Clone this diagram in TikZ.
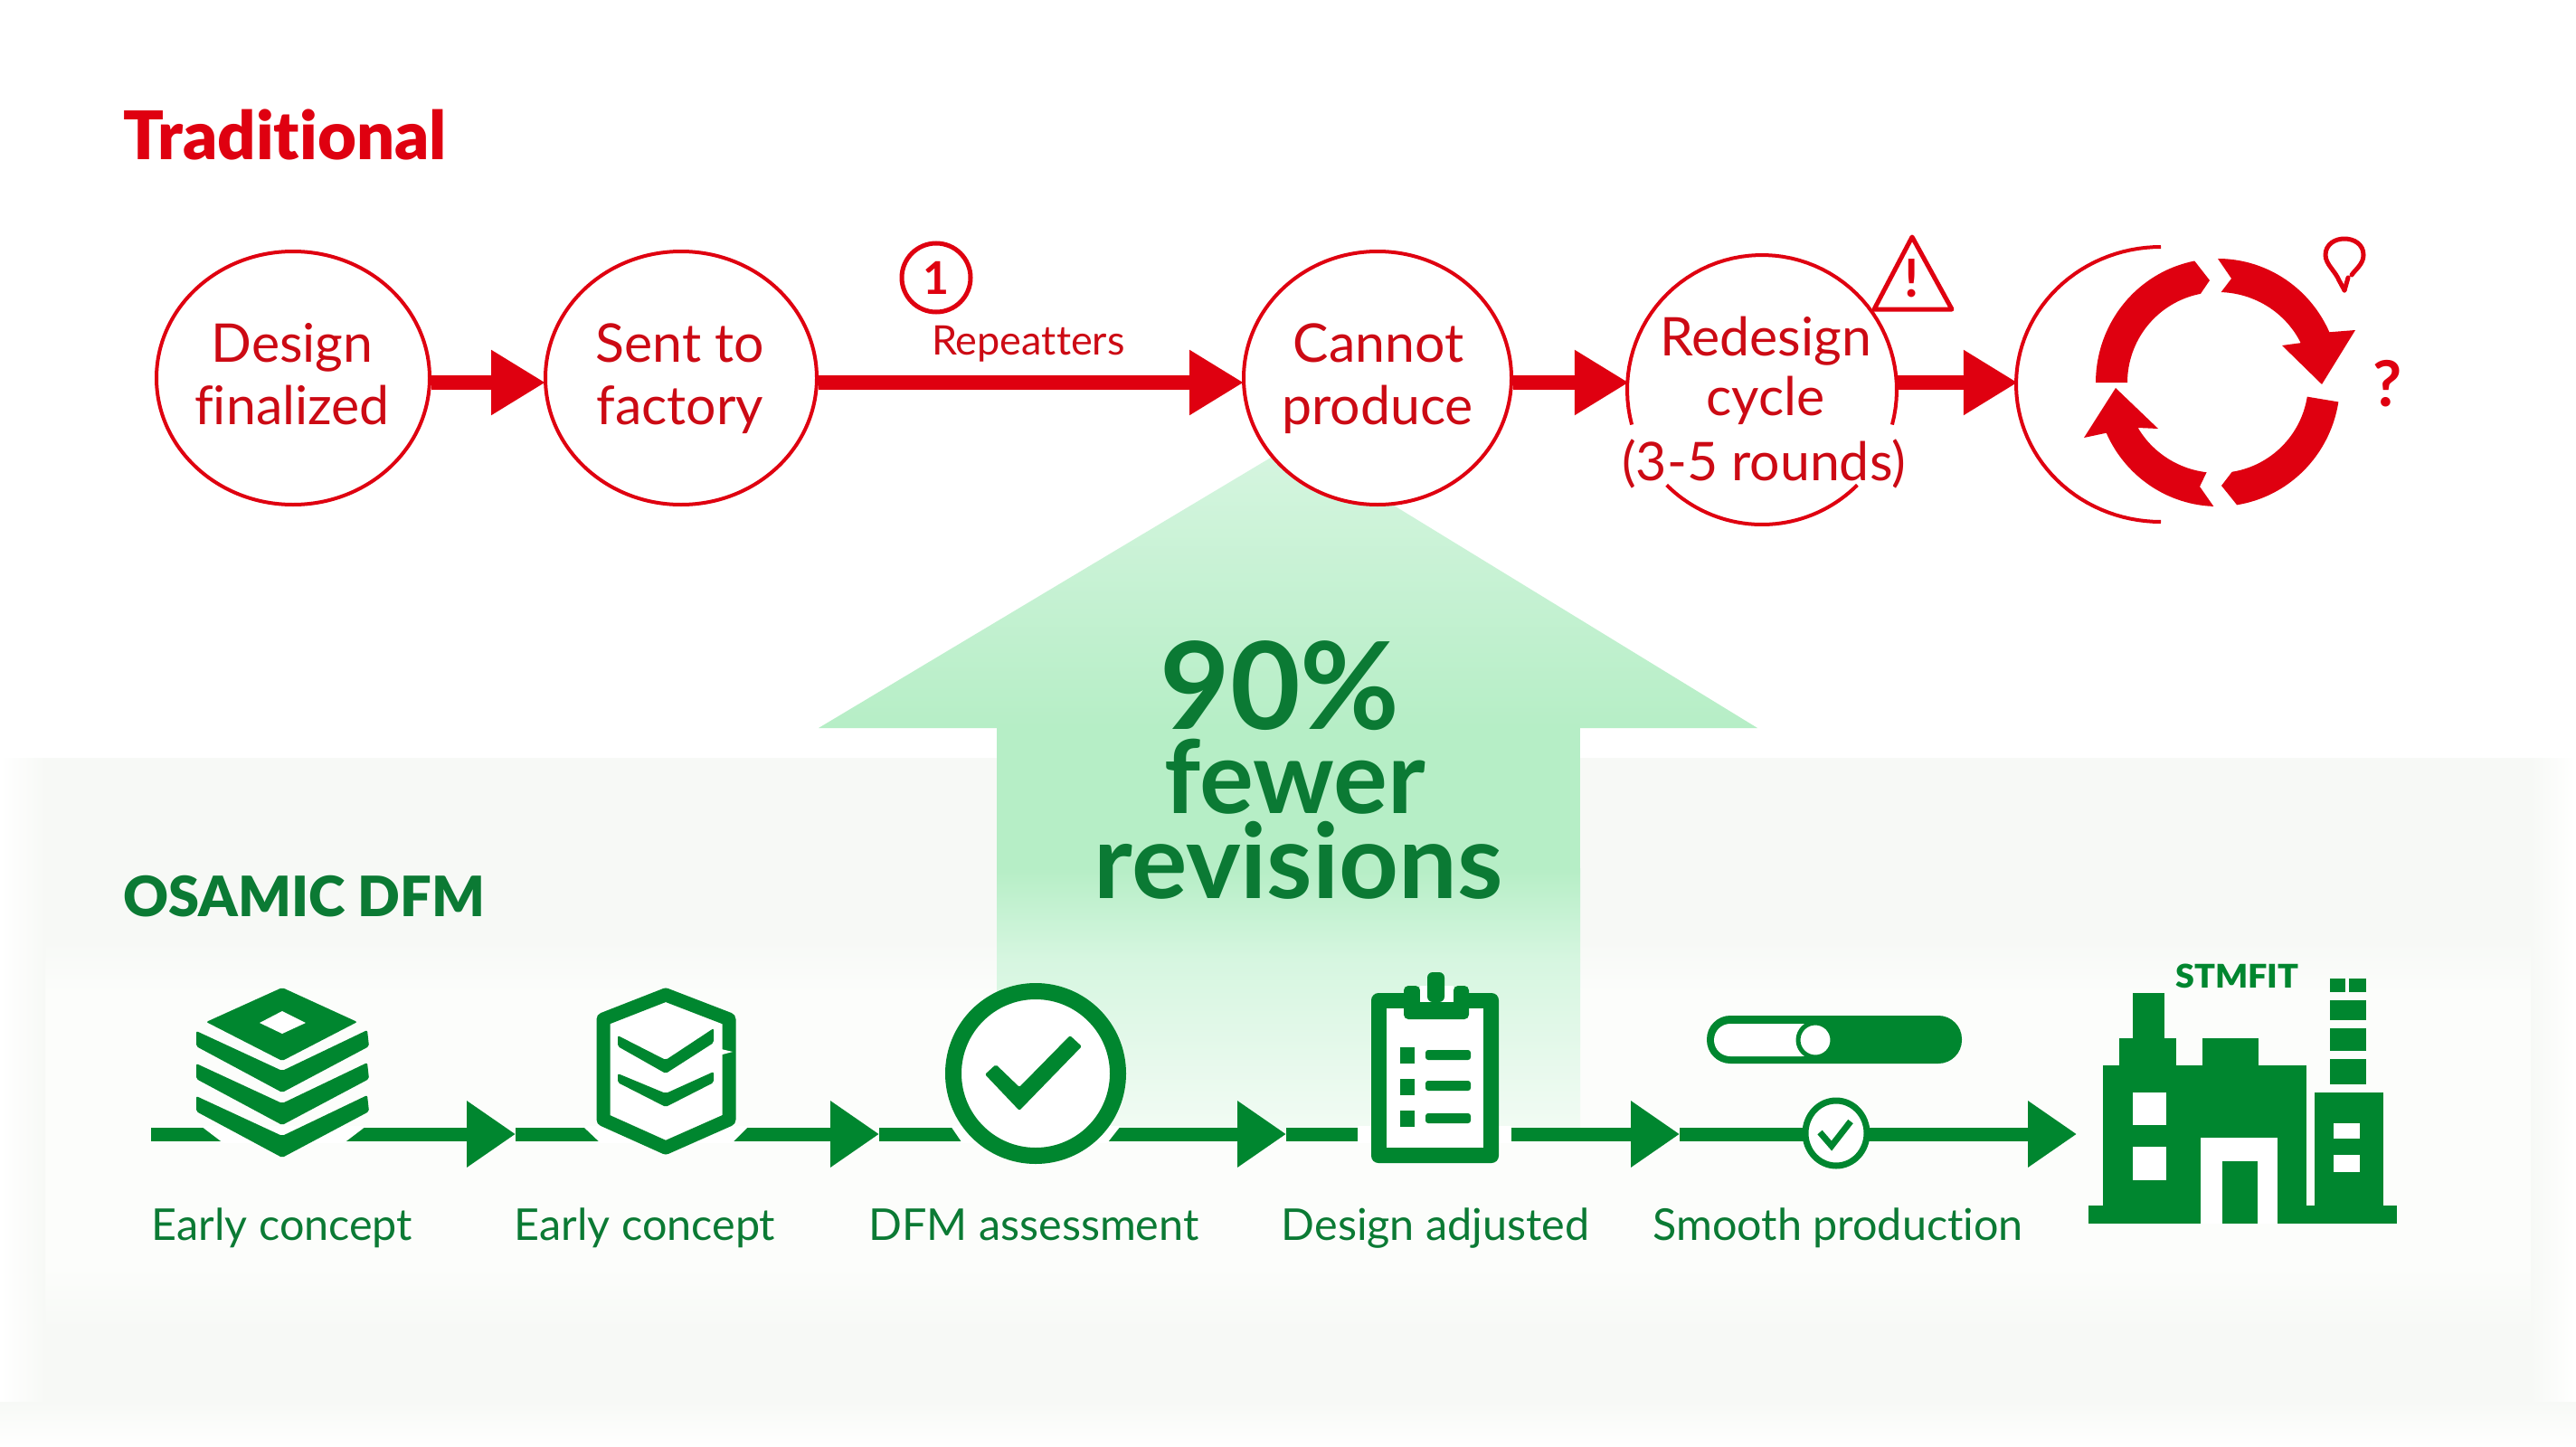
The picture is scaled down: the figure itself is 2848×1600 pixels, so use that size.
\documentclass[tikz,border=0pt]{standalone}
\usepackage{fontspec}
\setmainfont[Ligatures=NoCommon]{Lato}
\newfontfamily\blk[Ligatures=NoCommon]{Lato Black}
\usetikzlibrary{arrows.meta,shapes.geometric,calc}
\definecolor{rd}{HTML}{DF0010}
\definecolor{rdtx}{HTML}{CC0A14}
\definecolor{gr}{HTML}{00862F}
\definecolor{grtx}{HTML}{0B7A34}
\definecolor{bandc}{HTML}{F7F9F6}
\definecolor{haloc}{HTML}{FCFDFB}
\definecolor{arrowtop}{HTML}{D6F5E0}
\definecolor{arrowmid}{HTML}{B6EEC6}
\definecolor{arrowlow}{HTML}{D6F6E0}
\definecolor{arrowbot}{HTML}{F2FBF4}
\tikzset{
  x=1pt,y=-1pt,
  fs/.style={font=\fontsize{#1}{#1}\selectfont},
  stepnode/.style={ellipse,draw=rd,line width=4pt,fill=white,inner sep=0pt},
  steptext/.style={anchor=base,text=rdtx,fs=59,inner sep=0pt},
  rlink/.style={draw=rd,line width=16pt,-{Triangle[length=60pt,width=68pt]},shorten >=-2pt},
  glink/.style={draw=gr,line width=15pt},
  gtip/.style={-{Triangle[length=54pt,width=70pt]}},
  glabel/.style={anchor=base,text=grtx,fs=48.5},
  gap/.style={fill=white},
  icon/.style={fill=gr,rounded corners=2pt},
  ring/.style={fill=rd},
  headline/.style={anchor=base,text=grtx,inner sep=0pt},
}
\begin{document}
\begin{tikzpicture}
\useasboundingbox (0,0) rectangle (2848,1600);
\fill[white] (0,0) rectangle (2848,1600);
\fill[bandc] (0,838) rectangle (2848,1600);
\shade[top color=bandc,bottom color=haloc] (0,1040) rectangle (2848,1100);
\fill[haloc] (0,1100) rectangle (2848,1400);
\shade[top color=haloc,bottom color=bandc] (0,1400) rectangle (2848,1470);
\shade[left color=white,right color=bandc] (0,838) rectangle (50,1600);
\shade[right color=white,left color=bandc] (2798,838) rectangle (2848,1600);
\shade[top color=bandc,bottom color=white] (0,1550) rectangle (2848,1600);
% big arrow
\shade[top color=arrowtop,bottom color=arrowmid] (905,805) -- (1430,491) -- (1943,805) -- cycle;
\fill[arrowmid] (1102,804) rectangle (1747,960);
\shade[top color=arrowmid,bottom color=arrowlow] (1102,960) rectangle (1747,1060);
\shade[top color=arrowlow,bottom color=arrowbot] (1102,1060) rectangle (1747,1250);
% titles
\node[anchor=base west,text=rd,fs=74,inner sep=0pt] (t1) at (136,176) {\blk Traditional};
\node[anchor=base west,text=grtx,fs=61.5,inner sep=0pt] (t2) at (136,1013) {\blk OSAMIC DFM};
% red flow
\coordinate (rl) at (0,423);
\node[stepnode,minimum width=302pt,minimum height=280pt] (a) at (324,418) {};
\node[stepnode,minimum width=300pt,minimum height=280pt] (b) at (753,418) {};
\node[stepnode,minimum width=296pt,minimum height=280pt] (c) at (1523,418) {};
\node[ellipse,minimum width=298pt,minimum height=298pt,inner sep=0pt] (d) at (1948,431) {};
\node[ellipse,minimum width=320pt,minimum height=304pt,inner sep=0pt] (e) at (2389,425) {};
\foreach \tx/\ln/\ty/\s in {323/Design/400/a1,323/finalized/469/a2,752/Sent to/400/b1,752/factory/469/b2,1524/Cannot/400/c1,1523/produce/469/c2,1952/Redesign/393/d1,1952/cycle/459/d2,1950/(3-5 rounds)/531/d3}
  \node[steptext] (\s) at (\tx,\ty) {\ln};
\draw[rd,line width=4pt] plot[domain=-15:195,samples=60] ({1948+149*cos(\x)},{431-149*sin(\x)});
\draw[rd,line width=4pt] plot[domain=225:315,samples=40] ({1948+149*cos(\x)},{431-149*sin(\x)});
\draw[rd,line width=4pt] plot[domain=90:270,samples=60] ({2389+160*cos(\x)},{425-152*sin(\x)});
\draw[rlink] (a.east |- rl) -- (b.west |- rl);
\draw[rlink] (b.east |- rl) -- (c.west |- rl);
\draw[rlink] (c.east |- rl) -- (d.west |- rl);
\draw[rlink] (d.east |- rl) -- (e.west |- rl);
% note 1
\node[circle,draw=rd,line width=5pt,minimum size=76pt,inner sep=0pt,text=rd,fs=50] (one) at (1035,307) {\bfseries 1};
\node[anchor=base west,text=rdtx,fs=45,inner sep=0pt] (rep) at (1030,392) {Repeatters};
% warning
\draw[rd,line width=5pt,line join=round] (2114,262) -- (2158,342) -- (2072,342) -- cycle;
\node[text=rd,fs=58,inner sep=0pt] (warn) at (2114,308) {\bfseries !};
% loop
\fill[ring] plot[domain=180:101,samples=40] ({2452+135*cos(\x)},{423-137*sin(\x)}) -- (2443,310) -- plot[domain=101:180,samples=40] ({2452+100*cos(\x)},{423-100*sin(\x)}) -- cycle;
\fill[ring] plot[domain=90:24,samples=40] ({2452+135*cos(\x)},{423-137*sin(\x)}) -- (2604,365) -- (2567,425) -- (2523,382) -- plot[domain=26:88,samples=30] ({2452+102*cos(\x)},{423-100*sin(\x)}) -- (2467,308) -- cycle;
\fill[ring] plot[domain=-9:-81,samples=40] ({2452+135*cos(\x)},{423-137*sin(\x)}) -- (2456,537) -- plot[domain=-81:-9,samples=30] ({2452+100*cos(\x)},{423-100*sin(\x)}) -- cycle;
\fill[ring] plot[domain=-92:-156,samples=30] ({2452+135*cos(\x)},{423-137*sin(\x)}) -- (2304,484) -- (2339,429) -- (2386,474) -- plot[domain=-150:-97,samples=30] ({2452+102*cos(\x)},{423-100*sin(\x)}) -- (2432,538) -- cycle;
% pin and question
\draw[rd,line width=5pt,line cap=round,line join=round] (2592,321) -- (2586,310) .. controls (2582,300) and (2571,292) .. (2571,282) .. controls (2571,258) and (2613,258) .. (2613,282) .. controls (2613,292) and (2604,298) .. (2600,304);
\draw[rd,line width=5pt,line cap=round] (2592,321) -- (2596,307);
\node[anchor=base,text=rd,fs=70,inner sep=0pt] (q) at (2640,449) {\bfseries ?};
% green flow
\coordinate (gs) at (167,1254);
\coordinate (g1) at (570,1254);
\coordinate (g2) at (972,1254);
\coordinate (g3) at (1422,1254);
\coordinate (g4) at (1857,1254);
\coordinate (g5) at (2296,1254);
\node[minimum width=200pt,minimum height=190pt,inner sep=0pt] (i1) at (312,1185) {};
\node[minimum width=156pt,minimum height=190pt,inner sep=0pt] (i2) at (737,1185) {};
\node[circle,minimum size=200pt,inner sep=0pt] (i3) at (1145,1187) {};
\node[minimum width=150pt,minimum height=190pt,inner sep=0pt] (i4) at (1586,1190) {};
\node[ellipse,minimum width=72pt,minimum height=76pt,inner sep=0pt] (i5) at (2030,1253) {};
\draw[glink] (gs) -- (i1 |- gs);
\draw[glink,gtip] (i1 |- gs) -- (g1);
\draw[glink] (g1) -- (i2 |- gs);
\draw[glink,gtip] (i2 |- gs) -- (g2);
\draw[glink] (g2) -- (i3 |- gs);
\draw[glink,gtip] (i3 |- gs) -- (g3);
\draw[glink] (g3) -- (i4 |- gs);
\draw[glink,gtip] (i4 |- gs) -- (g4);
\draw[glink] (g4) -- (i5 |- gs);
\draw[glink,gtip] (i5 |- gs) -- (g5);
% gaps of the line round each icon
\fill[gap] (222,1245) -- (247,1264) -- (380,1264) -- (405,1245) -- cycle;
\fill[gap] (644,1245) -- (664,1264) -- (809,1264) -- (828,1245) -- cycle;
\fill[gap] (1051,1245) -- (1064,1264) -- (1224,1264) -- (1239,1245) -- cycle;
\fill[gap] (1501,1245) rectangle (1671,1264);
% icon 1
\fill[icon] (312,1092) -- (395,1130) -- (312,1173) -- (228,1130) -- cycle;
\fill[white] (312,1118) -- (338,1131) -- (312,1143) -- (287,1131) -- cycle;
\foreach \d in {0,36,72}
  \fill[icon] (217,1140+\d) -- (312,1184+\d) -- (406,1139+\d) -- (408,1157+\d) -- (312,1208+\d) -- (217,1157+\d) -- cycle;
% icon 2
\draw[gr,fill=white,line width=15pt,line join=round] (736,1100) -- (806,1127) -- (806,1238) -- (736,1269) -- (667,1238) -- (667,1127) -- cycle;
\foreach \a/\b/\c/\e/\f/\g in {1145/1172/1137/1157/1187/1153,1187/1209/1185/1197/1224/1197}
  \fill[icon] (683,\a) -- (736,\b) -- (789,\c) -- (789,\g) -- (736,\f) -- (683,\e) -- cycle;
\fill[white] (793,1159) -- (810,1163) -- (795,1167) -- cycle;
% icon 3
\node[circle,draw=gr,fill=white,line width=18pt,minimum size=182pt,inner sep=0pt] (chk) at (1145,1187) {};
\fill[icon] (1089,1188) -- (1101,1177) -- (1127,1202) -- (1183,1145) -- (1196,1157) -- (1127,1228) -- cycle;
% icon 4
\fill[gr,rounded corners=8pt] (1516,1098) rectangle (1657,1286);
\fill[white] (1533,1115) rectangle (1640,1269);
\fill[gr,rounded corners=5pt] (1552,1090) -- (1570,1090) -- (1570,1108) -- (1607,1108) -- (1607,1090) -- (1624,1090) -- (1624,1127) -- (1552,1127) -- cycle;
\fill[white] (1570,1090) rectangle (1607,1108);
\fill[gr,rounded corners=6pt] (1578,1075) rectangle (1597,1108);
\foreach \u/\v in {1158/1161,1193/1195,1228/1231}{
  \fill[gr] (1548,\u) rectangle (1564,\u+18);
  \fill[gr,rounded corners=3pt] (1576,\v) rectangle (1626,\v+11);
}
% toggle
\fill[gr,rounded corners=26pt] (1887,1123) rectangle (2169,1176);
\fill[white,rounded corners=18pt] (1895,1132) rectangle (2010,1168);
\node[circle,draw=gr,fill=white,line width=5pt,minimum size=38pt,inner sep=0pt] (knob) at (2007,1150) {};
% small check
\node[ellipse,draw=gr,fill=white,line width=7pt,minimum width=68pt,minimum height=72pt,inner sep=0pt] (sc) at (2030,1253) {};
\draw[gr,line width=7pt] (2012,1252) -- (2025,1267) -- (2046,1240);
% factory
\fill[gr] (2309,1333) rectangle (2650,1353);
\fill[gr] (2325,1178) rectangle (2550,1333);
\fill[gr] (2343,1148) rectangle (2406,1178);
\fill[gr] (2358,1098) rectangle (2393,1148);
\fill[gr] (2435,1148) rectangle (2497,1178);
\fill[gr] (2559,1208) rectangle (2635,1333);
\fill[white] (2433,1258) rectangle (2518,1353);
\fill[gr] (2457,1284) rectangle (2496,1353);
\fill[white] (2358,1208) rectangle (2395,1244);
\fill[white] (2358,1268) rectangle (2395,1305);
\fill[white] (2580,1242) rectangle (2609,1259);
\fill[white] (2580,1277) rectangle (2609,1296);
\fill[gr] (2576,1082) rectangle (2616,1097);
\fill[gr] (2576,1106) rectangle (2616,1128);
\fill[gr] (2576,1137) rectangle (2616,1162);
\fill[gr] (2576,1171) rectangle (2616,1199);
\fill[white] (2593,1082) rectangle (2597,1097);
\node[anchor=base west,text=gr,fs=36,inner sep=0pt,xscale=1.05] (stm) at (2405,1092) {\blk STMFIT};
% labels
\node[glabel] (l1) at (312,1371) {Early concept};
\node[glabel] (l2) at (713,1371) {Early concept};
\node[glabel] (l3) at (1143,1371) {DFM assessment};
\node[glabel] (l4) at (1587,1371) {Design adjusted};
\node[glabel] (l5) at (2032,1371) {Smooth production};
% headline
\node[headline,fs=134] (h1) at (1415,806) {\bfseries 90\%};
\node[headline,fs=112] (h2) at (1432,899) {\bfseries fewer};
\node[headline,fs=115] (h3) at (1436,993) {\bfseries revisions};
\end{tikzpicture}
\end{document}
